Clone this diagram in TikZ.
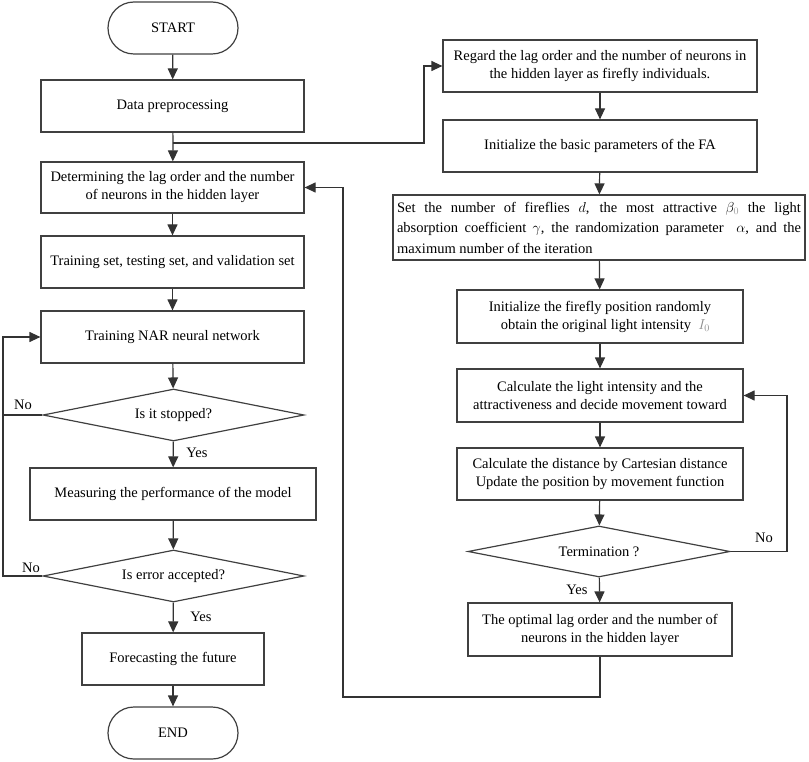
\documentclass[tikz,border=0pt]{standalone}
\usepackage{fontspec}
\setmainfont{Liberation Serif}
\usetikzlibrary{shapes.geometric,arrows.meta,calc}
\begin{document}
\begin{tikzpicture}[x=1pt,y=-1pt,
  every node/.style={font=\fontsize{14.5}{18}\selectfont, text=black},
  ln/.style={draw=black!80, line width=1.2pt},
  arr/.style={ln, -{Triangle[length=11pt,width=10pt]}},
  procbox/.style={draw=black!75, line width=1.2pt, rectangle, inner sep=0pt, align=center},
  termbox/.style={draw=black!75, line width=1.2pt, rectangle, rounded corners=26pt, inner sep=0pt, minimum width=130pt, minimum height=52pt},
  decbox/.style={draw=black!75, line width=1.2pt, diamond, inner sep=0pt, aspect=5},
  lbl/.style={inner sep=0pt}
]
\useasboundingbox (0,0) rectangle (809,762);
% left column
\node[termbox] (start) at (173,28) {START};
\node[procbox, minimum width=263pt, minimum height=52pt] (data) at (172.5,106) {Data preprocessing};
\node[procbox, minimum width=263pt, minimum height=51pt] (det) at (172.5,187.5) {Determining the lag order and the number\\of neurons in the hidden layer};
\node[procbox, minimum width=263pt, minimum height=52pt] (train) at (172.5,262) {Training set, testing set, and validation set};
\node[procbox, minimum width=263pt, minimum height=52pt] (nar) at (172.5,337) {Training NAR neural network};
\node[decbox, minimum width=261pt, minimum height=52pt] (stop) at (173.5,415) {Is it stopped?};
\node[procbox, minimum width=286pt, minimum height=52pt] (meas) at (173,494) {Measuring the performance of the model};
\node[decbox, minimum width=261pt, minimum height=52pt] (err) at (173.5,576) {Is error accepted?};
\node[procbox, minimum width=182pt, minimum height=52pt] (fore) at (173,659) {Forecasting the future};
\node[termbox] (end) at (173,733) {END};
% right column
\node[procbox, minimum width=314pt, minimum height=52pt] (reg) at (600,66) {Regard the lag order and the number of neurons in\\the hidden layer as firefly individuals.};
\node[procbox, minimum width=314pt, minimum height=52pt] (init) at (600,146) {Initialize the basic parameters of the FA};
\node[procbox, minimum width=412pt, minimum height=65pt, text width=404pt, align=justify, font=\fontsize{14.5}{20.5}\selectfont] (set) at (599,227.5) {Set the number of fireflies $d$, the most attractive $\beta_{\color{black!40}0}$ the light\linebreak absorption coefficient $\gamma$, the randomization parameter \ $\alpha$, and the\linebreak maximum number of the iteration};
\node[procbox, minimum width=286pt, minimum height=53pt] (ff) at (600,316.5) {Initialize the firefly position randomly\\\ \ \ obtain the original light intensity \ {\color{black!45}$I_0$}};
\node[procbox, minimum width=286pt, minimum height=53pt] (c1) at (600,395.5) {Calculate the light intensity and the\\attractiveness and decide movement toward};
\node[procbox, minimum width=286pt, minimum height=52pt] (c2) at (600,474) {Calculate the distance by Cartesian distance\\Update the position by movement function};
\node[decbox, minimum width=262pt, minimum height=51pt] (term) at (599,551.5) {Termination ?};
\node[procbox, minimum width=264pt, minimum height=53pt] (opt) at (600,629.5) {The optimal lag order and the number of\\neurons in the hidden layer};
% helper coordinates
\coordinate (j) at (173,143);
\coordinate (jr) at (424,143);
\coordinate (l1) at (3,415);
\coordinate (l2) at (3,576);
\coordinate (r1) at (787,551.5);
\coordinate (b1) at (343,697);
% connectors
\draw[arr] (start) -- (data);
\draw[ln] (data) -- (j);
\draw[arr] (j) -- (det);
\draw[arr] (j) -- (jr) |- (reg.west);
\draw[arr] (det) -- (train);
\draw[arr] (train) -- (nar);
\draw[arr] (nar) -- (stop);
\draw[arr] (stop) -- (meas);
\draw[arr] (meas) -- (err);
\draw[arr] (err) -- (fore);
\draw[arr] (fore) -- (end);
\draw[arr] (stop.west) -- (l1) |- (nar.west);
\draw[ln] (err.west) -- (l2) -- (l1);
\draw[arr] (reg) -- (init);
\draw[arr] (init) -- (set);
\draw[arr] (set) -- (ff);
\draw[arr] (ff) -- (c1);
\draw[arr] (c1) -- (c2);
\draw[arr] (c2) -- (term);
\draw[arr] (term) -- (opt);
\draw[arr] (term.east) -- (r1) |- (c1.east);
\draw[arr] (opt.south) -- (opt.south |- b1) -- (b1) |- (det.east);
% labels
\node[lbl] (no1) at (23,405) {No};
\node[lbl] (yes1) at (197,453) {Yes};
\node[lbl] (no2) at (31,568) {No};
\node[lbl] (yes2) at (201,617) {Yes};
\node[lbl] (yes3) at (577,590) {Yes};
\node[lbl] (no3) at (764,538) {No};
\end{tikzpicture}
\end{document}
